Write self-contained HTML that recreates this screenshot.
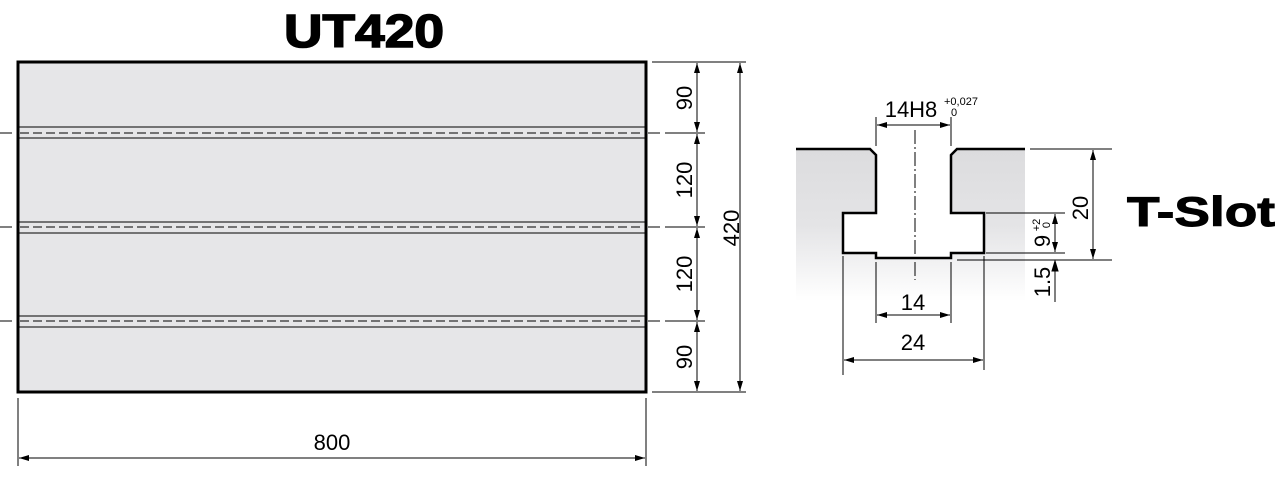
<!DOCTYPE html>
<html><head><style>body{margin:0;background:#fff}svg{display:block}</style></head><body>
<svg width="1286" height="480" viewBox="0 0 1286 480" xmlns="http://www.w3.org/2000/svg" font-family="Liberation Sans, sans-serif">
<defs>
<marker id="a" viewBox="0 0 10 6" refX="10" refY="3" markerWidth="10" markerHeight="6" orient="auto-start-reverse" markerUnits="userSpaceOnUse"><path d="M0,0L10,3L0,6z" fill="#000"/></marker>
<linearGradient id="g" x1="0" y1="0" x2="0" y2="1"><stop offset="0" stop-color="#dcdcde"/><stop offset="0.5" stop-color="#e4e4e6"/><stop offset="1" stop-color="#fff"/></linearGradient>
</defs>
<text x="364" y="47" font-size="46" font-weight="bold" text-anchor="middle" stroke="#000" stroke-width="1.5" textLength="160" lengthAdjust="spacingAndGlyphs">UT420</text>
<rect x="18" y="62" width="628" height="330" fill="#e6e6e8" stroke="#000" stroke-width="3"/>
<g stroke="#000" stroke-width="1" fill="none">
<line x1="19" y1="127" x2="645" y2="127"/><line x1="19" y1="138" x2="645" y2="138"/>
<line x1="19" y1="222" x2="645" y2="222"/><line x1="19" y1="233" x2="645" y2="233"/>
<line x1="19" y1="316" x2="645" y2="316"/><line x1="19" y1="327" x2="645" y2="327"/>
<g stroke-dasharray="9,4"><line x1="20" y1="133" x2="640" y2="133"/><line x1="20" y1="227" x2="640" y2="227"/><line x1="20" y1="321" x2="640" y2="321"/></g>
<line x1="0" y1="133" x2="12" y2="133"/><line x1="0" y1="227" x2="12" y2="227"/><line x1="0" y1="321" x2="12" y2="321"/>
<line x1="648" y1="133" x2="660" y2="133"/><line x1="648" y1="227" x2="660" y2="227"/><line x1="648" y1="321" x2="660" y2="321"/>
<line x1="665" y1="133" x2="705" y2="133"/><line x1="665" y1="227" x2="705" y2="227"/><line x1="665" y1="321" x2="705" y2="321"/>
<line x1="652" y1="62" x2="746" y2="62"/><line x1="652" y1="392" x2="746" y2="392"/>
<line x1="697" y1="63" x2="697" y2="132" marker-start="url(#a)" marker-end="url(#a)"/>
<line x1="697" y1="134" x2="697" y2="226" marker-start="url(#a)" marker-end="url(#a)"/>
<line x1="697" y1="228" x2="697" y2="320" marker-start="url(#a)" marker-end="url(#a)"/>
<line x1="697" y1="322" x2="697" y2="391" marker-start="url(#a)" marker-end="url(#a)"/>
<line x1="740" y1="63" x2="740" y2="391" marker-start="url(#a)" marker-end="url(#a)"/>
<line x1="18" y1="398" x2="18" y2="466"/><line x1="646" y1="398" x2="646" y2="466"/>
<line x1="19" y1="458" x2="645" y2="458" marker-start="url(#a)" marker-end="url(#a)"/>
</g>
<g font-size="22" text-anchor="middle">
<text transform="translate(692,98) rotate(-90)">90</text>
<text transform="translate(692,180) rotate(-90)">120</text>
<text transform="translate(692,274) rotate(-90)">120</text>
<text transform="translate(692,357) rotate(-90)">90</text>
<text transform="translate(739,228) rotate(-90)">420</text>
<text x="332" y="450">800</text>
</g>
<!-- T-slot -->
<rect x="796" y="149" width="229" height="152" fill="url(#g)"/>
<path d="M870,147 L957,147 L951,155 L951,213 L984,213 L984,253 L951,253 L951,258 L876,258 L876,253 L843,253 L843,213 L876,213 L876,155 Z" fill="#fff"/>
<g stroke="#000" stroke-width="2.5" fill="none">
<path d="M796,149 L870,149 L876,155 L876,213 L843,213 L843,253 L876,253 L876,258 L951,258 L951,253 L984,253 L984,213 L951,213 L951,155 L957,149 L1025,149"/>
</g>
<g stroke="#000" stroke-width="1" fill="none">
<line x1="915" y1="130" x2="915" y2="280" stroke-dasharray="14,3,2,3"/>
<line x1="876" y1="117" x2="876" y2="146"/><line x1="951" y1="117" x2="951" y2="146"/>
<line x1="877" y1="125" x2="950" y2="125" marker-start="url(#a)" marker-end="url(#a)"/>
<line x1="1030" y1="149" x2="1112" y2="149"/><line x1="957" y1="260" x2="1112" y2="260"/>
<line x1="986" y1="213" x2="1065" y2="213"/><line x1="986" y1="253" x2="1065" y2="253"/>
<line x1="1093" y1="150" x2="1093" y2="259" marker-start="url(#a)" marker-end="url(#a)"/>
<line x1="1055" y1="214" x2="1055" y2="252" marker-start="url(#a)" marker-end="url(#a)"/>
<line x1="1055" y1="261" x2="1055" y2="302"/>
<path d="M1055,261 l-3,10 l6,0 z" fill="#000"/>
<line x1="876" y1="262" x2="876" y2="323"/><line x1="951" y1="262" x2="951" y2="323"/>
<line x1="877" y1="315" x2="950" y2="315" marker-start="url(#a)" marker-end="url(#a)"/>
<line x1="843" y1="256" x2="843" y2="375"/><line x1="984" y1="256" x2="984" y2="370"/>
<line x1="844" y1="360" x2="983" y2="360" marker-start="url(#a)" marker-end="url(#a)"/>
</g>
<g font-size="22" text-anchor="middle">
<text x="911" y="117">14H8</text>
<text x="913" y="310">14</text>
<text x="913" y="350">24</text>
<text transform="translate(1088,208) rotate(-90)">20</text>
<text transform="translate(1050,282) rotate(-90)">1.5</text>
<text transform="translate(1050,241) rotate(-90)">9</text>
</g>
<g font-size="11"><text x="944" y="105">+0,027</text><text x="951" y="116">0</text></g>
<g font-size="11" text-anchor="middle"><text transform="translate(1040,225) rotate(-90)">+2</text><text transform="translate(1050,225) rotate(-90)">0</text></g>
<text x="1127" y="226" font-size="42" font-weight="bold" stroke="#000" stroke-width="1" textLength="148" lengthAdjust="spacingAndGlyphs">T-Slot</text>
</svg>
</body></html>
